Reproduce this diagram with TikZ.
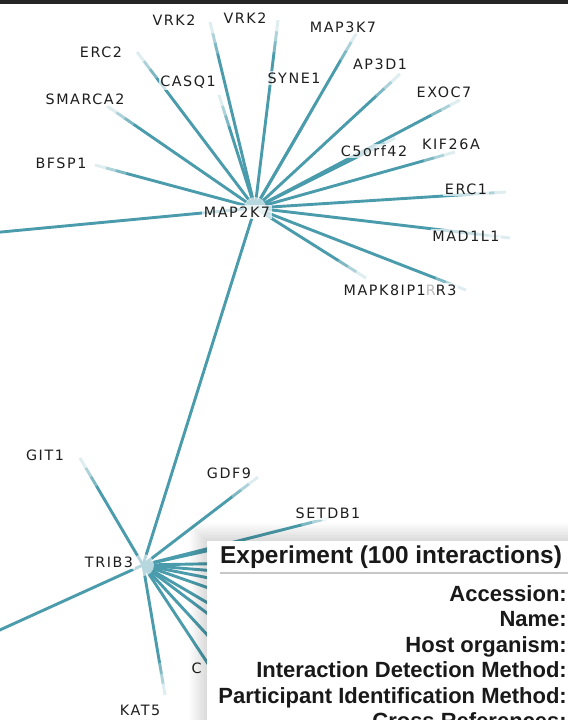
\documentclass[tikz,border=0pt]{standalone}
\usepackage{fontspec}
\newfontfamily\lblfont[LetterSpace=11]{DejaVu Sans}
\newfontfamily\panelfont{Liberation Sans}
\usetikzlibrary{calc}
\definecolor{edgecol}{RGB}{74,156,172}
\definecolor{lbltext}{RGB}{30,30,30}

\tikzset{
  edge/.style={draw=edgecol, line width=2.9pt},
  gene/.style={font=\lblfont\fontsize{14.3}{15}\selectfont, text=lbltext,
    fill=white, fill opacity=0.7, text opacity=1, inner sep=1.5pt},
  hubglow/.style={fill=white, fill opacity=0.6, draw=none},
  paneltitle/.style={font=\panelfont\bfseries\fontsize{24.4}{26}\selectfont,
    text=black!90, anchor=base west, inner sep=0pt},
  panelkey/.style={font=\panelfont\bfseries\fontsize{22}{24}\selectfont,
    text=black!90, anchor=base east, inner sep=0pt},
}

% edge from a hub to a partner, fading out towards the partner end
\newcommand\linkfade[2]{%
  \draw[edge] (#1) -- ($(#2)!32pt!(#1)$);
  \draw[edge,draw=edgecol!72] ($(#2)!32.5pt!(#1)$) -- ($(#2)!21pt!(#1)$);
  \draw[edge,draw=edgecol!45] ($(#2)!21.5pt!(#1)$) -- ($(#2)!11pt!(#1)$);
  \draw[edge,draw=edgecol!18] ($(#2)!11.5pt!(#1)$) -- (#2);}

\begin{document}
\begin{tikzpicture}[x=1pt,y=-1pt]
\useasboundingbox (0,0) rectangle (568,720);
\fill[white] (0,0) rectangle (568,720);
\begin{scope}
\clip (0,0) rectangle (568,720);

% hubs
\coordinate (map2k7) at (255,208);
\coordinate (trib3) at (143,565);

% partner ends around MAP2K7
\coordinate (vrkA) at (210,22);
\coordinate (vrkB) at (278,20);
\coordinate (erc2) at (137,52);
\coordinate (casq1) at (219,95);
\coordinate (syne1) at (318,100);
\coordinate (map3k7) at (357,32);
\coordinate (ap3d1) at (400,74);
\coordinate (exoc7) at (460,100);
\coordinate (c5orf) at (395,138);
\coordinate (kif26a) at (455,152);
\coordinate (erc1) at (506,192);
\coordinate (mad1l1) at (510,238);
\coordinate (mapk8) at (366,278);
\coordinate (ppp1r3) at (466,290);
\coordinate (smarca2) at (107,106);
\coordinate (bfsp1) at (95,165);
\coordinate (offL) at (-20,234);

% partner ends around TRIB3
\coordinate (git1) at (80,458);
\coordinate (gdf9) at (258,477);
\coordinate (setdb1) at (333,517);
\coordinate (offB) at (-20,639);
\coordinate (kat5) at (165,695);
\coordinate (hA) at (238,544);
\coordinate (hB) at (300,562);
\coordinate (hC) at (300,578);
\coordinate (hD) at (300,596);
\coordinate (hE) at (300,620);
\coordinate (hF) at (300,657);
\coordinate (hG) at (300,683);
\coordinate (hH) at (290,725);
\coordinate (hI) at (245,720);

% edges of MAP2K7
\foreach \p in {vrkA,vrkB,erc2,casq1,syne1,map3k7,ap3d1,exoc7,c5orf,kif26a,
                erc1,mad1l1,mapk8,ppp1r3,smarca2,bfsp1}
  {\linkfade{map2k7}{\p}}
\draw[edge] (map2k7) -- (offL);

% edges of TRIB3
\foreach \p in {git1,gdf9,setdb1,kat5}
  {\linkfade{trib3}{\p}}
\foreach \p in {offB,hA,hB,hC,hD,hE,hF,hG,hH,hI}
  {\draw[edge] (trib3) -- (\p);}
\draw[edge] (map2k7) -- (trib3);

% hub halos
\fill[hubglow] (map2k7) circle (11);
\fill[hubglow] (trib3) circle (11);

% labels
\node[gene] (lVRKA) at (174,20) {VRK2};
\node[gene] (lVRKB) at (245,18) {VRK2};
\node[gene] (lMAP3K7) at (343,27) {MAP3K7};
\node[gene] (lERC2) at (101,52) {ERC2};
\node[gene] (lAP3D1) at (380,64) {AP3D1};
\node[gene] (lCASQ1) at (188,82) {CASQ1};
\node[gene] (lSYNE1) at (294,78) {SYNE1};
\node[gene] (lEXOC7) at (444,92) {EXOC7};
\node[gene] (lSMARCA2) at (85,99) {SMARCA2};
\node[gene] (lC5) at (374,151) {C5orf42};
\node[gene] (lKIF) at (451,144) {KIF26A};
\node[gene] (lBFSP1) at (61,163) {BFSP1};
\node[gene] (lERC1) at (466,189) {ERC1};
\node[gene] (lMAP2K7) at (237,212) {MAP2K7};
\node[gene] (lMAD1L1) at (466,236) {MAD1L1};
\node[gene] (lMAPK8) at (400,290) {MAPK8IP1{\color{lbltext!30}R}R3};
\node[gene] (lGIT1) at (45,455) {GIT1};
\node[gene] (lGDF9) at (229,473) {GDF9};
\node[gene] (lSETDB1) at (328,513) {SETDB1};
\node[gene] (lTRIB3) at (109,562) {TRIB3};
\node[gene] (lKAT5) at (140,710) {KAT5};
\node[gene, anchor=west] (lC) at (190,668) {C};

% soft shadow of the details panel
\foreach \i in {1,...,12}
  {\fill[black, opacity=0.012] (207-1.5*\i,541-1.5*\i) rectangle (600,760);}
% details panel
\fill[white] (207,541) rectangle (600,760);
\node[paneltitle] (ptitle) at (220,563) {Experiment (100 interactions)};
\draw[black!22, line width=1.3pt] (220,573) -- (568,573);
\node[panelkey] (kAcc) at (567,601) {Accession:};
\node[panelkey] (kName) at (567,626.5) {Name:};
\node[panelkey] (kHost) at (567,652) {Host organism:};
\node[panelkey] (kIDM) at (567,677.5) {Interaction Detection Method:};
\node[panelkey] (kPIM) at (567,703) {Participant Identification Method:};
\node[panelkey] (kXref) at (567,728.5) {Cross References:};

% top frame edge
\fill[black!85] (0,0) rectangle (568,3.5);
\end{scope}
\end{tikzpicture}
\end{document}
